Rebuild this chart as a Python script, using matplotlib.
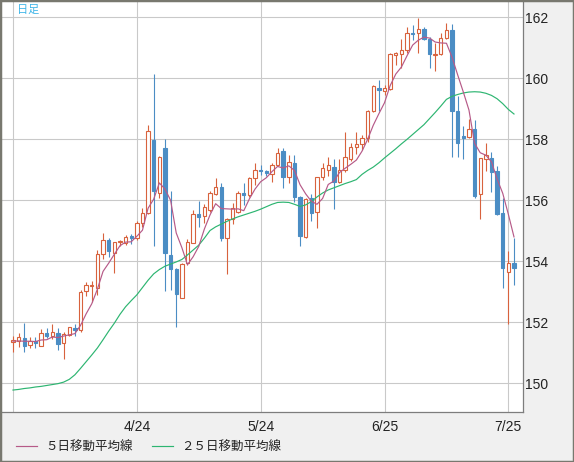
import matplotlib
matplotlib.use('Agg')
import matplotlib.pyplot as plt
from matplotlib.lines import Line2D
from matplotlib.patches import Rectangle

plt.rcParams['font.family'] = ['Liberation Sans', 'Noto Sans CJK JP', 'DejaVu Sans']

# ---------------- data (daily candles, 3/25 .. 7/26) ----------------
opens = [151.33, 151.39, 151.46, 151.24, 151.38, 151.22, 151.65, 151.55, 151.65, 151.32,
         151.57, 151.81, 151.74, 153.01, 153.18, 153.12, 154.22, 154.69, 154.27, 154.62,
         154.58, 154.82, 154.74, 155.24, 155.58, 157.97, 156.24, 157.69, 154.19, 153.74,
         152.80, 153.92, 154.60, 155.53, 155.49, 155.67, 156.19, 156.42, 154.76, 155.37,
         155.61, 156.24, 156.15, 156.71, 157.00, 156.94, 156.86, 157.15, 157.61, 156.76,
         157.21, 156.09, 154.80, 156.05, 155.60, 156.74, 157.00, 157.09, 156.60, 157.00,
         157.33, 157.73, 157.84, 158.02, 158.92, 159.67, 159.58, 159.64, 160.77, 160.79,
         160.92, 161.47, 161.46, 161.60, 161.27, 160.75, 160.80, 161.30, 161.57, 158.93,
         158.10, 158.05, 158.32, 156.19, 157.33, 157.37, 156.95, 155.58, 153.65, 153.92]
highs = [151.54, 151.63, 151.98, 151.52, 151.52, 151.76, 151.81, 151.95, 151.79, 151.66,
         151.85, 151.92, 153.05, 153.32, 153.35, 154.36, 154.91, 154.76, 154.63, 154.70,
         154.85, 154.90, 155.30, 155.73, 158.46, 160.13, 157.45, 158.00, 156.30, 153.76,
         153.95, 154.72, 155.67, 155.97, 155.87, 156.30, 156.73, 156.57, 155.40, 155.91,
         156.30, 156.55, 156.75, 157.22, 157.15, 157.00, 157.22, 157.69, 157.69, 157.48,
         157.48, 156.12, 156.06, 156.21, 156.76, 157.22, 157.42, 157.36, 157.36, 158.24,
         157.86, 158.22, 158.13, 158.95, 159.76, 159.93, 159.78, 160.83, 160.86, 161.27,
         161.68, 161.74, 161.96, 161.68, 161.36, 161.14, 161.49, 161.79, 161.77, 159.41,
         158.43, 158.65, 158.62, 157.38, 157.86, 157.58, 157.11, 156.05, 154.34, 154.74]
lows = [151.03, 151.19, 151.01, 151.14, 151.14, 151.20, 151.46, 151.43, 151.08, 150.79,
        151.54, 151.54, 151.68, 152.86, 152.67, 152.90, 154.06, 154.14, 153.60, 154.50,
        154.53, 154.55, 154.70, 155.13, 155.55, 154.50, 156.05, 153.03, 153.05, 151.85,
        152.78, 153.87, 154.58, 155.12, 155.24, 155.62, 156.18, 154.66, 153.57, 155.22,
        155.58, 155.84, 156.10, 156.49, 156.82, 156.80, 156.60, 157.10, 156.38, 156.55,
        155.94, 154.49, 154.75, 155.30, 155.09, 156.66, 156.80, 155.70, 156.55, 156.92,
        157.27, 157.52, 157.63, 157.91, 158.90, 158.92, 159.45, 159.62, 160.43, 160.32,
        160.83, 161.25, 160.83, 161.25, 160.32, 160.24, 160.75, 161.27, 157.42, 157.40,
        157.33, 158.02, 156.05, 155.37, 156.96, 156.27, 155.51, 153.10, 151.93, 153.21]
closes = [151.41, 151.50, 151.22, 151.37, 151.32, 151.63, 151.55, 151.66, 151.28, 151.60,
          151.83, 151.75, 152.99, 153.20, 153.22, 154.22, 154.69, 154.34, 154.61, 154.66,
          154.80, 154.76, 155.24, 155.58, 158.26, 156.30, 157.42, 154.25, 153.73, 152.91,
          153.90, 154.61, 155.53, 155.45, 155.76, 156.22, 156.42, 154.76, 155.37, 155.75,
          156.24, 156.15, 156.71, 156.97, 156.94, 156.87, 157.15, 157.55, 156.76, 157.26,
          156.11, 154.83, 156.04, 155.58, 156.74, 157.04, 157.14, 156.58, 157.00, 157.42,
          157.73, 157.84, 158.02, 158.92, 159.74, 159.62, 159.67, 160.79, 160.81, 160.92,
          161.46, 161.43, 161.60, 161.27, 160.78, 160.80, 161.30, 161.57, 158.93, 157.88,
          158.04, 158.32, 156.14, 157.37, 157.48, 156.93, 155.54, 153.78, 153.92, 153.78]
ma5 = [151.37, 151.38, 151.37, 151.37, 151.36, 151.41, 151.42, 151.51, 151.49, 151.54,
       151.58, 151.62, 151.89, 152.27, 152.60, 153.08, 153.66, 153.93, 154.22, 154.50,
       154.62, 154.63, 154.81, 155.01, 155.73, 156.03, 156.56, 156.36, 155.99, 154.92,
       154.44, 153.88, 154.14, 154.48, 155.05, 155.51, 155.88, 155.72, 155.71, 155.70,
       155.71, 155.65, 156.04, 156.36, 156.60, 156.73, 156.93, 157.10, 157.05, 157.12,
       156.97, 156.50, 156.20, 155.96, 155.86, 156.05, 156.51, 156.62, 156.90, 157.04,
       157.17, 157.31, 157.60, 157.99, 158.45, 158.83, 159.19, 159.75, 160.13, 160.36,
       160.73, 161.08, 161.24, 161.34, 161.31, 161.18, 161.15, 161.14, 160.68, 160.10,
       159.54, 158.95, 157.86, 157.55, 157.47, 157.25, 156.69, 156.22, 155.53, 154.79]
ma25 = [149.77, 149.79, 149.82, 149.84, 149.87, 149.89, 149.92, 149.95, 149.98, 150.03,
        150.12, 150.27, 150.48, 150.70, 150.92, 151.15, 151.42, 151.70, 151.96, 152.25,
        152.50, 152.70, 152.89, 153.13, 153.37, 153.58, 153.72, 153.83, 153.90, 153.97,
        154.05, 154.20, 154.36, 154.52, 154.75, 155.00, 155.12, 155.21, 155.30, 155.38,
        155.45, 155.51, 155.57, 155.63, 155.70, 155.78, 155.86, 155.92, 155.93, 155.92,
        155.86, 155.79, 155.84, 155.95, 156.10, 156.23, 156.33, 156.40, 156.47, 156.54,
        156.60, 156.67, 156.84, 156.97, 157.08, 157.22, 157.38, 157.53, 157.68, 157.84,
        157.99, 158.15, 158.31, 158.47, 158.67, 158.87, 159.08, 159.30, 159.40, 159.46,
        159.51, 159.54, 159.55, 159.54, 159.50, 159.43, 159.32, 159.16, 158.97, 158.82]
x_tick_pos = [0, 22, 44, 66, 88]
x_tick_labels = ['', '4/24', '5/24', '6/25', '7/25']
y_ticks = [150, 152, 154, 156, 158, 160, 162]
legend_labels = ['５日移動平均線', '２５日移動平均線']
title_text = '日足'

# ---------------- style ----------------
UP = '#d8623d'
DOWN = '#4b8dc4'
MA5_C = '#b65a88'
MA25_C = '#2db571'
GRID = '#c9c9c9'
BG = '#f0f0f0'

W, H = 574, 462
fig = plt.figure(figsize=(W / 100, H / 100), dpi=100, facecolor=BG)
ax = fig.add_axes([2 / W, 50 / H, 521 / W, 411 / H])
ax.set_facecolor('white')

n = len(closes)
xs = list(range(n))
up_i = [i for i in xs if closes[i] >= opens[i]]
dn_i = [i for i in xs if closes[i] < opens[i]]

# wicks
ax.vlines(up_i, [lows[i] for i in up_i], [highs[i] for i in up_i], color=UP, lw=0.8, zorder=2)
ax.vlines(dn_i, [lows[i] for i in dn_i], [highs[i] for i in dn_i], color=DOWN, lw=0.8, zorder=2)
# bodies
ax.bar(up_i, [max(closes[i] - opens[i], 0.01) for i in up_i], bottom=[opens[i] for i in up_i],
       width=0.6, facecolor='white', edgecolor=UP, linewidth=0.8, zorder=3)
ax.bar(dn_i, [max(opens[i] - closes[i], 0.01) for i in dn_i], bottom=[closes[i] for i in dn_i],
       width=0.6, facecolor=DOWN, edgecolor=DOWN, linewidth=0.8, zorder=3)
# moving averages
ax.plot(xs, ma25, color=MA25_C, lw=0.85, zorder=4)
ax.plot(xs, ma5, color=MA5_C, lw=0.85, zorder=4)

ax.set_xlim(-1.95, 90.6)
ax.set_ylim(149.05, 162.525)
ax.set_xticks(x_tick_pos)
ax.set_xticklabels(x_tick_labels)
ax.set_yticks(y_ticks)
ax.set_yticklabels([str(v) for v in y_ticks])
ax.yaxis.tick_right()
ax.tick_params(axis='y', length=0, pad=1.5, labelsize=10, labelcolor='#222222')
ax.tick_params(axis='x', length=0, pad=6, labelsize=10, labelcolor='#222222')
ax.grid(True, color=GRID, lw=0.8)
ax.set_axisbelow(True)
for s in ['left', 'top']:
    ax.spines[s].set_visible(False)
for s in ['right', 'bottom']:
    ax.spines[s].set_color('#7d7d7d')
    ax.spines[s].set_linewidth(0.9)

fig.text(17 / W, 1 - 10 / H, title_text, color='#3db5e8', fontsize=8, ha='left', va='center',
         family=['Noto Sans CJK JP', 'DejaVu Sans'])

handles = [Line2D([], [], color=MA5_C, lw=0.85), Line2D([], [], color=MA25_C, lw=0.85)]
fig.legend(handles, legend_labels, loc='center left', bbox_to_anchor=(16 / W, 15 / H), ncol=2,
           frameon=False, prop={'family': ['Noto Sans CJK JP', 'DejaVu Sans'], 'size': 9},
           handlelength=1.7, handletextpad=0.65, columnspacing=1.5, borderpad=0, borderaxespad=0,
           labelcolor='#222222')

fig.patches.append(Rectangle((0, 0), 1, 1, transform=fig.transFigure, fill=False,
                             edgecolor='#78786f', lw=2.5, zorder=10))

fig.savefig('out.png', dpi=100, facecolor=fig.get_facecolor())
